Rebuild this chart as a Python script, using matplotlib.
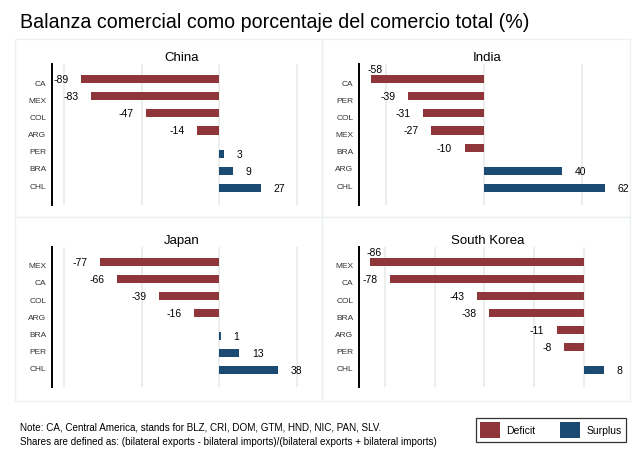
import matplotlib
matplotlib.use('Agg')
import matplotlib.pyplot as plt
from matplotlib.patches import Rectangle, Patch

plt.rcParams['font.family'] = ['Liberation Sans', 'DejaVu Sans']

# trade balance shares by partner (% of bilateral trade)
china_cats = ['CA', 'MEX', 'COL', 'ARG', 'PER', 'BRA', 'CHL']
china_vals = [-89, -83, -47, -14, 3, 9, 27]
india_cats = ['CA', 'PER', 'COL', 'MEX', 'BRA', 'ARG', 'CHL']
india_vals = [-58, -39, -31, -27, -10, 40, 62]
japan_cats = ['MEX', 'CA', 'COL', 'ARG', 'BRA', 'PER', 'CHL']
japan_vals = [-77, -66, -39, -16, 1, 13, 38]
korea_cats = ['MEX', 'CA', 'COL', 'BRA', 'ARG', 'PER', 'CHL']
korea_vals = [-86, -78, -43, -38, -11, -8, 8]

DEFICIT = '#8f363b'
SURPLUS = '#1b4a72'
GRID = '#e4ebe9'
FRAME = '#edf1f0'

W, H = 635, 464
fig = plt.figure(figsize=(W / 100, H / 100), dpi=100)


def px_rect(x0, y0, x1, y1):
    return [x0 / W, 1 - y1 / H, (x1 - x0) / W, (y1 - y0) / H]


def panel(rect, title, cats, vals, xlim, grid):
    ax = fig.add_axes(px_rect(*rect))
    n = len(cats)
    for i, v in enumerate(vals):
        if v < 0:
            y = i - 0.18
            ax.barh(y, v, height=0.47, color=DEFICIT, zorder=3)
        else:
            y = i + 0.18
            ax.barh(y, v, height=0.47, color=SURPLUS, zorder=3)
        frac = (v - xlim[0]) / (xlim[1] - xlim[0])
        if v < 0 and frac < 0.06:
            ax.annotate(str(v), (v, y), xytext=(3, 7), textcoords='offset points',
                        ha='center', va='center', fontsize=7.5, annotation_clip=False)
        elif v < 0:
            ax.annotate(str(v), (v, y), xytext=(-9, 0), textcoords='offset points',
                        ha='right', va='center', fontsize=7.5, annotation_clip=False)
        else:
            ax.annotate(str(v), (v, y), xytext=(9, 0), textcoords='offset points',
                        ha='left', va='center', fontsize=7.5, annotation_clip=False)
    for g in grid:
        ax.axvline(g, color=GRID, lw=1.1, zorder=1)
    ax.set_xlim(*xlim)
    ax.set_ylim(n - 1 + 1.16, -1.05)
    ax.set_yticks(range(n))
    ax.set_yticklabels(cats, fontsize=6, color='#333333')
    ax.tick_params(axis='y', length=0, pad=4)
    ax.set_xticks([])
    for s in ['top', 'right', 'bottom']:
        ax.spines[s].set_visible(False)
    ax.spines['left'].set_linewidth(1.4)
    ax.spines['left'].set_color('black')
    ax.set_title(title, fontsize=9.5, pad=3)
    return ax


panel((52, 65, 312, 206), 'China', china_cats, china_vals, (-108, 60), [-100, -50, 0, 50])
panel((359, 65, 615, 206), 'India', india_cats, india_vals, (-64, 67), [-50, 0, 50])
panel((52, 248, 312, 388), 'Japan', japan_cats, japan_vals, (-108, 60), [-100, -50, 0, 50])
panel((359, 248, 617, 388), 'South Korea', korea_cats, korea_vals, (-90.4, 13.3),
      [-80, -60, -40, -20, 0])

# light frames around the four panels
for x0, y0, x1, y1 in [(15, 40, 322, 218), (322, 40, 630, 218),
                       (15, 218, 322, 402), (322, 218, 630, 402)]:
    r = px_rect(x0, y0, x1, y1)
    fig.add_artist(Rectangle((r[0], r[1]), r[2], r[3], transform=fig.transFigure,
                             fill=False, edgecolor=FRAME, lw=1.0))

fig.text(20 / W, 1 - 22 / H, 'Balanza comercial como porcentaje del comercio total (%)',
         fontsize=14.1, va='center', ha='left')

fig.text(20 / W, 1 - 428 / H,
         'Note: CA, Central America, stands for BLZ, CRI, DOM, GTM, HND, NIC, PAN, SLV.',
         fontsize=7.1, va='center', ha='left')
fig.text(20 / W, 1 - 442 / H,
         'Shares are defined as: (bilateral exports - bilateral imports)/(bilateral exports + bilateral imports)',
         fontsize=7.1, va='center', ha='left')

handles = [Patch(facecolor=DEFICIT, label='Deficit'), Patch(facecolor=SURPLUS, label='Surplus')]
leg = fig.legend(handles=handles, loc='center', bbox_to_anchor=(551 / W, 1 - 431 / H),
                 ncol=2, fontsize=7.5, frameon=True, fancybox=False, edgecolor='black',
                 handlelength=1.9, handleheight=1.9, handletextpad=0.6,
                 columnspacing=2.4, borderpad=0.45)
leg.get_frame().set_linewidth(0.9)

fig.savefig('out.png', dpi=100)
